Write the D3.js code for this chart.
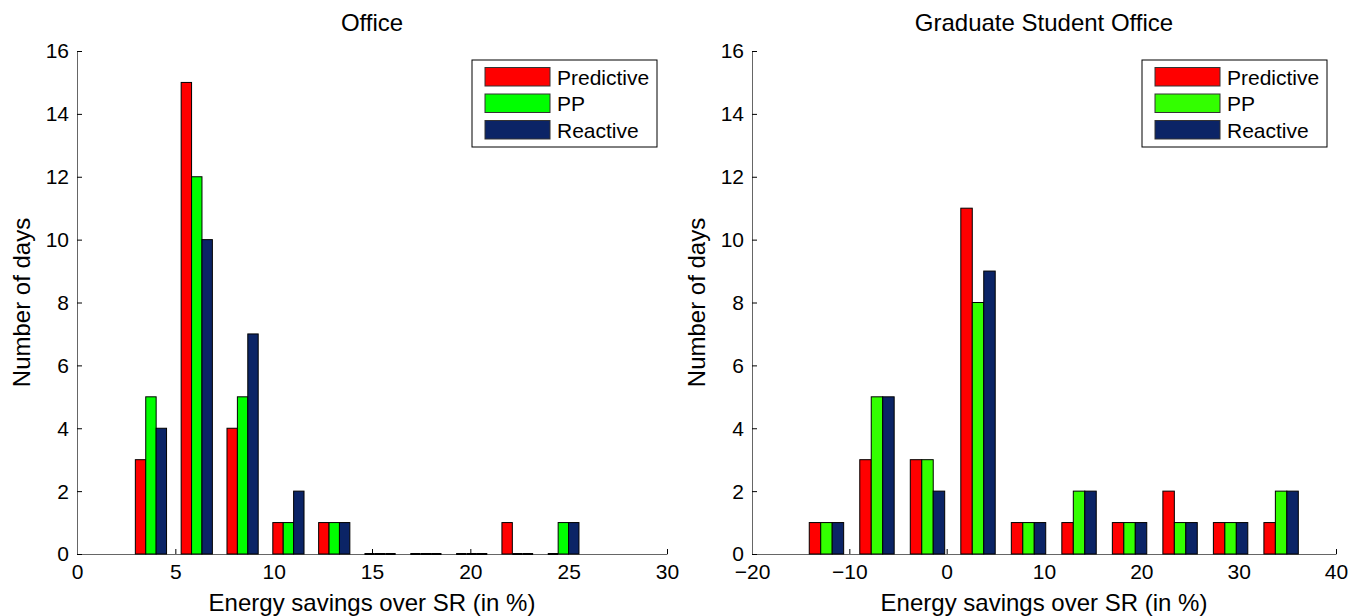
<!DOCTYPE html>
<html>
<head>
<meta charset="utf-8">
<script src="https://cdn.jsdelivr.net/npm/d3@7"></script>
<style>
  body { margin: 0; background: #fff; }
  svg text { font-family: "Liberation Sans", Arial, sans-serif; fill: #000; }
</style>
</head>
<body>
<svg id="chart" width="1362" height="616"></svg>
<script>
// series names and colours
const seriesNames = ["Predictive", "PP", "Reactive"];

// Office histogram (bin centres in %)
const officeBins = [3.76, 6.09, 8.42, 10.75, 13.08, 15.41, 17.74, 20.07, 22.40, 24.73];
const officePredictive = [3, 15, 4, 1, 1, 0, 0, 0, 1, 0];
const officePP         = [5, 12, 5, 1, 1, 0, 0, 0, 0, 1];
const officeReactive   = [4, 10, 7, 2, 1, 0, 0, 0, 0, 1];
const officeXTicks = [0, 5, 10, 15, 20, 25, 30];

// Graduate student office histogram
const gradBins = [-12.35, -7.16, -1.97, 3.22, 8.41, 13.60, 18.79, 23.98, 29.17, 34.36];
const gradPredictive = [1, 3, 3, 11, 1, 1, 1, 2, 1, 1];
const gradPP         = [1, 5, 3, 8, 1, 2, 1, 1, 1, 2];
const gradReactive   = [1, 5, 2, 9, 1, 2, 1, 1, 1, 2];
const gradXTicks = [-20, -10, 0, 10, 20, 30, 40];

const yTicks = [0, 2, 4, 6, 8, 10, 12, 14, 16];

let svg = d3.select("#chart");

function drawPanel(opt) {
  let x = d3.scaleLinear().domain(opt.xDomain).range([opt.left, opt.right]);
  let y = d3.scaleLinear().domain([0, 16]).range([554, 51]);
  let g = svg.append("g");

  // axes first so bars sit on top
  let xAxis = d3.axisBottom(x).tickValues(opt.xTicks).tickSizeInner(-5).tickSizeOuter(0).tickPadding(10);
  let yAxis = d3.axisLeft(y).tickValues(yTicks).tickSizeInner(-5).tickSizeOuter(0).tickPadding(8);

  let gx = g.append("g").attr("transform", "translate(0," + y(0) + ")").call(xAxis);
  let gy = g.append("g").attr("transform", "translate(" + opt.left + ",0)").call(yAxis);
  [gx, gy].forEach(function(a) {
    a.select(".domain").attr("stroke", "#666");
    a.selectAll(".tick line").attr("stroke", "#000");
    a.selectAll("text").style("font-size", "21px").attr("fill", "#000");
  });
  gx.selectAll("text").attr("dy", "0.72em");
  gy.selectAll("text").attr("dy", "0.33em");

  // bars
  let step = opt.bins[1] - opt.bins[0];
  let bw = step * 0.227;
  let series = [opt.s1, opt.s2, opt.s3];
  series.forEach(function(vals, si) {
    let rows = vals.map(function(v, i) { return {v: v, c: opt.bins[i]}; });
    g.selectAll(null)
      .data(rows.filter(function(d) { return d.v > 0; }))
      .enter()
      .append("rect")
      .attr("x", function(d) { return x(d.c + (si - 1.5) * bw); })
      .attr("width", x(bw) - x(0))
      .attr("y", function(d) { return y(d.v); })
      .attr("height", function(d) { return y(0) - y(d.v); })
      .attr("fill", opt.colors[si])
      .attr("stroke", "#000")
      .attr("stroke-width", 1);
    // empty bins show as a flat edge on the baseline
    g.selectAll(null)
      .data(rows.filter(function(d) { return d.v === 0; }))
      .enter()
      .append("line")
      .attr("x1", function(d) { return x(d.c + (si - 1.5) * bw); })
      .attr("x2", function(d) { return x(d.c + (si - 0.5) * bw); })
      .attr("y1", y(0)).attr("y2", y(0))
      .attr("stroke", "#000").attr("stroke-width", 2);
  });

  let mid = (opt.left + opt.right) / 2;
  g.append("text").attr("x", mid).attr("y", 31)
    .attr("text-anchor", "middle").style("font-size", "24px").text(opt.title);
  g.append("text").attr("x", mid).attr("y", 611)
    .attr("text-anchor", "middle").style("font-size", "24px").text("Energy savings over SR (in %)");
  g.append("text")
    .attr("transform", "translate(" + (opt.left - 47) + "," + ((y(0) + y(16)) / 2) + ") rotate(-90)")
    .attr("text-anchor", "middle").style("font-size", "24px").text("Number of days");

  // legend
  let lg = g.append("g").attr("transform", "translate(" + opt.legendX + ",60)");
  lg.append("rect").attr("width", 185).attr("height", 87)
    .attr("fill", "#fff").attr("stroke", "#000").attr("stroke-width", 1);
  seriesNames.forEach(function(n, i) {
    lg.append("rect").attr("x", 13).attr("y", 7.5 + i * 26.5).attr("width", 65).attr("height", 18.5)
      .attr("fill", opt.colors[i]).attr("stroke", "#333");
    lg.append("text").attr("x", 85).attr("y", 17 + i * 26.5).attr("dy", "0.36em")
      .style("font-size", "21px").text(n);
  });
}

drawPanel({
  title: "Office", xDomain: [0, 30], left: 77, right: 667,
  bins: officeBins, s1: officePredictive, s2: officePP, s3: officeReactive,
  xTicks: officeXTicks, legendX: 472,
  colors: ["#ff0000", "#00ff00", "#0b2466"]
});

drawPanel({
  title: "Graduate Student Office", xDomain: [-20, 40], left: 752, right: 1336,
  bins: gradBins, s1: gradPredictive, s2: gradPP, s3: gradReactive,
  xTicks: gradXTicks, legendX: 1142,
  colors: ["#ff0000", "#33ff00", "#0b2466"]
});
</script>
</body>
</html>
